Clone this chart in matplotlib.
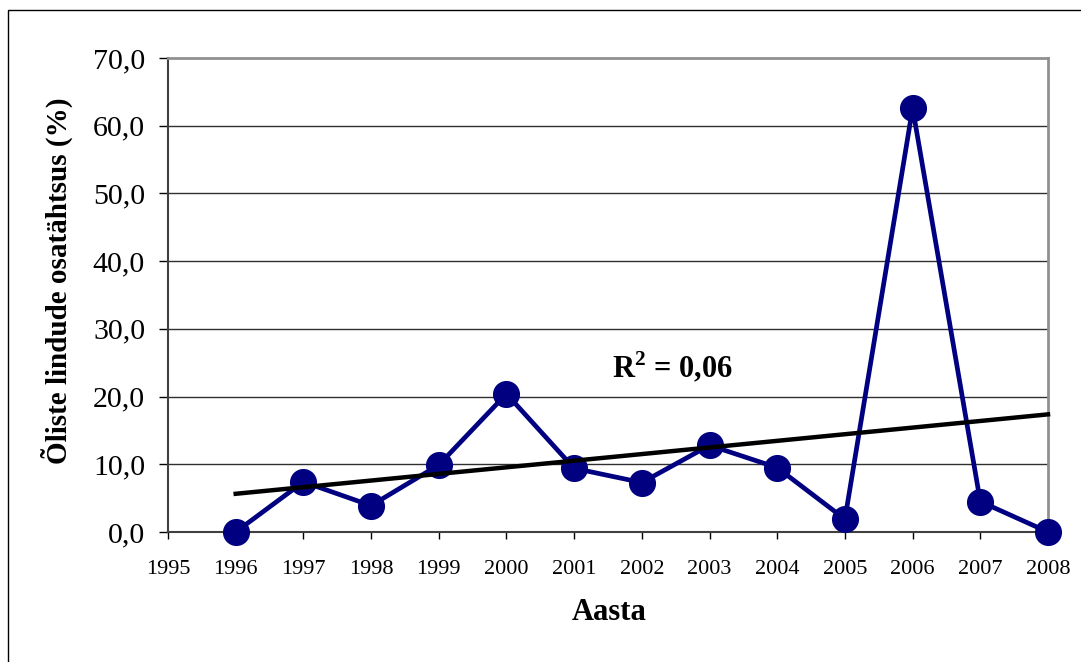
import numpy as np
import matplotlib.pyplot as plt
from matplotlib.patches import Rectangle

plt.rcParams['font.family'] = ['Liberation Serif', 'DejaVu Serif']
plt.rcParams['mathtext.fontset'] = 'custom'
plt.rcParams['mathtext.rm'] = 'Liberation Serif'
plt.rcParams['mathtext.bf'] = 'Liberation Serif:bold'

# data
years = [1996, 1997, 1998, 1999, 2000, 2001, 2002, 2003, 2004, 2005, 2006, 2007, 2008]
share = [0.0, 7.4, 3.9, 9.9, 20.4, 9.4, 7.3, 12.8, 9.5, 1.9, 62.6, 4.5, 0.0]
year_ticks = list(range(1995, 2009))
y_ticks = [0, 10, 20, 30, 40, 50, 60, 70]

fig = plt.figure(figsize=(10.81, 6.62), dpi=100, facecolor='w')
ax = fig.add_axes([168 / 1081, 1 - 532 / 662, 880 / 1081, 474 / 662])

# outer chart border (only left and top visible)
fig.patches.append(Rectangle((8 / 1081, -0.1), 1.2, 1 - 10 / 662 + 0.1,
                             transform=fig.transFigure, fill=False,
                             edgecolor='black', linewidth=1))

# gridlines
for v in y_ticks[1:-1]:
    ax.axhline(v, color='#303030', linewidth=1, zorder=1)

ax.plot(years, share, color='#000080', linewidth=3.4, marker='o',
        markersize=18.5, clip_on=False, zorder=4)

# linear trend
k, b = np.polyfit(years, share, 1)
xs = np.array([years[0], years[-1]])
ax.plot(xs, k * xs + b, color='black', linewidth=3.2, zorder=5, clip_on=False)

ax.text(2002.45, 24.4, r'R$^{\mathbf{2}}$ = 0,06', fontsize=22, fontweight='bold',
        ha='center', va='center')

ax.set_xlim(1995, 2008)
ax.set_ylim(0, 70)
ax.set_xticks(year_ticks)
ax.set_yticks(y_ticks)
ax.set_yticklabels([('%.1f' % v).replace('.', ',') for v in y_ticks])
ax.tick_params(axis='y', labelsize=21.5, length=6.5, width=1, pad=10, direction='out')
ax.tick_params(axis='x', labelsize=16, length=5, width=1, pad=15, direction='out')

for s in ['left', 'bottom']:
    ax.spines[s].set_color('#404040')
    ax.spines[s].set_linewidth(1.5)
for s in ['top', 'right']:
    ax.spines[s].set_color('#909090')
    ax.spines[s].set_linewidth(2)

ax.set_xlabel('Aasta', fontsize=22, fontweight='bold')
ax.xaxis.set_label_coords(0.501, -0.14)
ax.set_ylabel('Õliste lindude osatähtsus (%)', fontsize=21, fontweight='bold')
ax.yaxis.set_label_coords(-0.108, 0.53)

fig.savefig('out.png', dpi=100, facecolor='w')
